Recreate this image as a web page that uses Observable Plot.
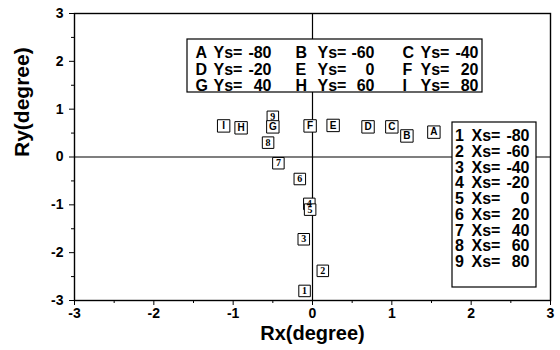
<!DOCTYPE html>
<html>
<head>
<meta charset="utf-8">
<script src="https://cdn.jsdelivr.net/npm/d3@7"></script>
<script src="https://cdn.jsdelivr.net/npm/@observablehq/plot@0.6"></script>
<style>
  html, body { margin: 0; padding: 0; background: #fff; }
  #chart { width: 560px; height: 350px; }
</style>
</head>
<body>
<div id="chart"></div>
<script>
// ---- data ----
const ysLetters = ["A", "B", "C", "D", "E", "F", "G", "H", "I"];
const ysValues  = [-80, -60, -40, -20, 0, 20, 40, 60, 80];
const ysRx      = [1.53, 1.19, 1.00, 0.70, 0.26, -0.03, -0.50, -0.90, -1.12];
const ysRy      = [0.52, 0.44, 0.63, 0.63, 0.66, 0.65, 0.63, 0.61, 0.65];

const xsNumbers = ["1", "2", "3", "4", "5", "6", "7", "8", "9"];
const xsValues  = [-80, -60, -40, -20, 0, 20, 40, 60, 80];
const xsRx      = [-0.10, 0.13, -0.11, -0.04, -0.03, -0.16, -0.43, -0.56, -0.50];
const xsRy      = [-2.80, -2.38, -1.72, -0.98, -1.10, -0.46, -0.13, 0.30, 0.84];

const xTicks = [-3, -2, -1, 0, 1, 2, 3];
const yTicks = [-3, -2, -1, 0, 1, 2, 3];
const xMinor = [-2.5, -1.5, -0.5, 0.5, 1.5, 2.5];
const yMinor = [-2.5, -1.5, -0.5, 0.5, 1.5, 2.5];

// ---- layout (pixels), converted to data units for placement ----
const W = 560, H = 350, mL = 74, mR = 10, mT = 13, mB = 50;
const xd = px => -3 + (px - mL) / (W - mL - mR) * 6;
const yd = py => 3 - (py - mT) / (H - mT - mB) * 6;

const font = "Liberation Sans, Arial, sans-serif";

const ysPts = ysLetters.map((l, i) => ({label: l, x: ysRx[i], y: ysRy[i]}));
const xsPts = xsNumbers.map((n, i) => ({label: n, x: xsRx[i], y: xsRy[i]}));

// top legend (Ys)
const topBox = {x1: xd(187), x2: xd(482), y1: yd(92), y2: yd(39)};
const topColLetter = [195, 295, 402], topColYs = [213, 317, 420], topColEnd = [271, 374, 478];
const topRows = [52, 69, 85];
const topLegend = ysLetters.map((l, i) => {
  const c = i % 3, r = Math.floor(i / 3);
  return {letter: l, value: String(ysValues[i]),
          xl: xd(topColLetter[c]), xs: xd(topColYs[c]), xe: xd(topColEnd[c]), y: yd(topRows[r])};
});

// right legend (Xs)
const rightBox = {x1: xd(452), x2: xd(536), y1: yd(287), y2: yd(122)};
const rightLegend = xsNumbers.map((n, i) => ({
  num: n, value: String(xsValues[i]),
  xn: xd(459), xs: xd(471), xe: xd(529), y: yd(135.5 + 15.75 * i)
}));

const lf = 16; // legend font size

const chart = Plot.plot({
  width: W, height: H,
  marginLeft: mL, marginRight: mR, marginTop: mT, marginBottom: mB,
  x: {domain: [-3, 3]},
  y: {domain: [-3, 3]},
  style: {fontFamily: font, fontWeight: "bold", background: "#fff", color: "#000"},
  marks: [
    Plot.ruleY([0], {stroke: "#000", strokeWidth: 1.2}),
    Plot.ruleX([0], {stroke: "#000", strokeWidth: 1.2}),
    Plot.frame({stroke: "#000", strokeWidth: 1.4}),
    Plot.axisX({ticks: xMinor, tickSize: 3, tickFormat: () => "", label: null}),
    Plot.axisY({ticks: yMinor, tickSize: 3, tickFormat: () => "", label: null}),
    Plot.axisX({ticks: xTicks, tickSize: 5, tickPadding: 3, tickFormat: d => String(d),
                fontSize: 14, fontWeight: "bold", label: null}),
    Plot.axisY({ticks: yTicks, tickSize: 5, tickPadding: 6, tickFormat: d => String(d),
                fontSize: 14, fontWeight: "bold", label: null}),
    Plot.text(["Rx(degree)"], {frameAnchor: "bottom", dy: 39, fontSize: 20, fontWeight: "bold"}),
    Plot.text(["Ry(degree)"], {frameAnchor: "left", dx: -52, rotate: -90, fontSize: 21, fontWeight: "bold"}),

    // top legend box
    Plot.rect([topBox], {x1: "x1", x2: "x2", y1: "y1", y2: "y2", fill: "#fff", stroke: "#000", strokeWidth: 1.2}),
    Plot.text(topLegend, {x: "xl", y: "y", text: "letter", textAnchor: "start", fontSize: lf, fontWeight: "bold"}),
    Plot.text(topLegend, {x: "xs", y: "y", text: () => "Ys=", textAnchor: "start", fontSize: lf, fontWeight: "bold"}),
    Plot.text(topLegend, {x: "xe", y: "y", text: "value", textAnchor: "end", fontSize: lf, fontWeight: "bold"}),

    // right legend box
    Plot.rect([rightBox], {x1: "x1", x2: "x2", y1: "y1", y2: "y2", fill: "#fff", stroke: "#000", strokeWidth: 1.2}),
    Plot.text(rightLegend, {x: "xn", y: "y", text: "num", fontSize: lf, fontWeight: "bold"}),
    Plot.text(rightLegend, {x: "xs", y: "y", text: () => "Xs=", textAnchor: "start", fontSize: lf, fontWeight: "bold"}),
    Plot.text(rightLegend, {x: "xe", y: "y", text: "value", textAnchor: "end", fontSize: lf, fontWeight: "bold"}),

    // numbered boxes (Xs)
    Plot.dot(xsPts, {x: "x", y: "y", symbol: "square", r: 6.5, fill: "#fff", stroke: "#000", strokeWidth: 1}),
    Plot.text(xsPts, {x: "x", y: "y", text: "label", fontSize: 10, fontWeight: "bold",
                      fontFamily: "Liberation Serif, Times New Roman, serif"}),
    // lettered boxes (Ys)
    Plot.dot(ysPts, {x: "x", y: "y", symbol: "square", r: 7, fill: "#fff", stroke: "#000", strokeWidth: 1}),
    Plot.text(ysPts, {x: "x", y: "y", text: "label", fontSize: 10, fontWeight: "bold"})
  ]
});
document.getElementById("chart").appendChild(chart);
</script>
</body>
</html>
